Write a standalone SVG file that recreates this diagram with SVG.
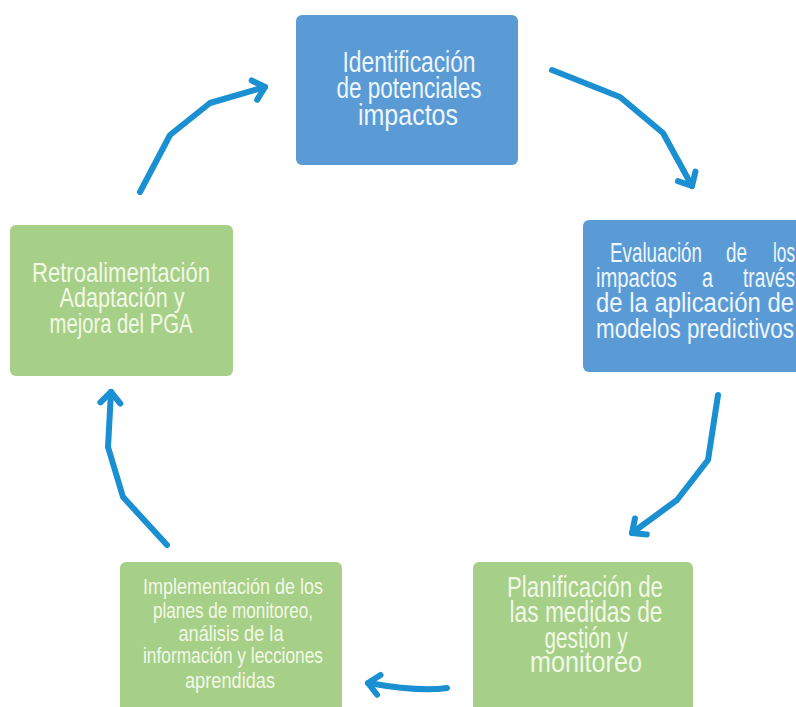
<svg xmlns="http://www.w3.org/2000/svg" width="796" height="707" viewBox="0 0 796 707">
<style>
.blue{fill:#5b9bd5;}
.green{fill:#a6cf87;}
.t{font-family:"Liberation Sans",Arial,sans-serif;fill:#eef6ff;text-anchor:middle;}
.tg{fill:#f2f8e6;}
.l{text-anchor:start;}
.arr{fill:none;stroke:#1a8fd1;stroke-width:6;stroke-linecap:round;stroke-linejoin:round;marker-end:url(#head);}
</style>
<defs>
<marker id="head" markerUnits="userSpaceOnUse" markerWidth="30" markerHeight="30" viewBox="-15 -15 30 30" refX="0" refY="0" orient="auto">
<polyline points="-11,-10 0,0 -11,10" fill="none" stroke="#1a8fd1" stroke-width="6" stroke-linecap="round" stroke-linejoin="round"/>
</marker>
</defs>
<rect width="796" height="707" fill="#ffffff"/>
<g id="n1">
<rect class="blue" x="296" y="15" width="222" height="150" rx="6"/>
<text class="t" font-size="29" x="409" y="72" textLength="133" lengthAdjust="spacingAndGlyphs">Identificación</text>
<text class="t" font-size="29" x="409" y="98" textLength="145" lengthAdjust="spacingAndGlyphs">de potenciales</text>
<text class="t" font-size="29" x="408" y="125" textLength="100" lengthAdjust="spacingAndGlyphs">impactos</text>
</g>
<g id="n2">
<rect class="blue" x="583" y="220" width="230" height="152" rx="6"/>
<text class="t l" font-size="27" x="610" y="262" textLength="92" lengthAdjust="spacingAndGlyphs">Evaluación</text>
<text class="t l" font-size="27" x="726" y="262" textLength="21" lengthAdjust="spacingAndGlyphs">de</text>
<text class="t l" font-size="27" x="773" y="262" textLength="22" lengthAdjust="spacingAndGlyphs">los</text>
<text class="t l" font-size="27" x="596" y="287" textLength="81" lengthAdjust="spacingAndGlyphs">impactos</text>
<text class="t l" font-size="27" x="702" y="287" textLength="11" lengthAdjust="spacingAndGlyphs">a</text>
<text class="t l" font-size="27" x="743" y="287" textLength="52" lengthAdjust="spacingAndGlyphs">través</text>
<text class="t l" font-size="27" x="596" y="312" textLength="198" lengthAdjust="spacingAndGlyphs">de la aplicación de</text>
<text class="t l" font-size="27" x="596" y="338" textLength="198" lengthAdjust="spacingAndGlyphs">modelos predictivos</text>
</g>
<g id="n3">
<rect class="green" x="473" y="562" width="220" height="160" rx="6"/>
<text class="t tg" font-size="29" x="585" y="597" textLength="156" lengthAdjust="spacingAndGlyphs">Planificación de</text>
<text class="t tg" font-size="29" x="586" y="622" textLength="153" lengthAdjust="spacingAndGlyphs">las medidas de</text>
<text class="t tg" font-size="29" x="586" y="648" textLength="83" lengthAdjust="spacingAndGlyphs">gestión y</text>
<text class="t tg" font-size="29" x="586" y="672" textLength="112" lengthAdjust="spacingAndGlyphs">monitoreo</text>
</g>
<g id="n4">
<rect class="green" x="120" y="562" width="222" height="160" rx="6"/>
<text class="t tg" font-size="22" x="233" y="594" textLength="180" lengthAdjust="spacingAndGlyphs">Implementación  de  los</text>
<text class="t tg" font-size="22" x="233" y="618" textLength="160" lengthAdjust="spacingAndGlyphs">planes  de  monitoreo,</text>
<text class="t tg" font-size="22" x="231" y="641" textLength="105" lengthAdjust="spacingAndGlyphs">análisis  de la</text>
<text class="t tg" font-size="22" x="233" y="663" textLength="180" lengthAdjust="spacingAndGlyphs">información  y lecciones</text>
<text class="t tg" font-size="22" x="230" y="688" textLength="90" lengthAdjust="spacingAndGlyphs">aprendidas</text>
</g>
<g id="n5">
<rect class="green" x="10" y="225" width="223" height="151" rx="6"/>
<text class="t tg" font-size="28" x="121" y="282" textLength="178" lengthAdjust="spacingAndGlyphs">Retroalimentación</text>
<text class="t tg" font-size="28" x="122" y="307" textLength="125" lengthAdjust="spacingAndGlyphs">Adaptación y</text>
<text class="t tg" font-size="28" x="121" y="333" textLength="143" lengthAdjust="spacingAndGlyphs">mejora del PGA</text>
</g>
<g id="connectors">
<path class="arr" d="M140,192 L170,135 L210,103 L265,87"/>
<path class="arr" d="M552,70 L620,97 L663,133 L692,186"/>
<path class="arr" d="M718,395 L708,460 L677,500 L632,533"/>
<path class="arr" d="M447,688 Q420,692 368,683"/>
<path class="arr" d="M167,545 L123,497 L108,447 L111,392"/>
</g>
</svg>
